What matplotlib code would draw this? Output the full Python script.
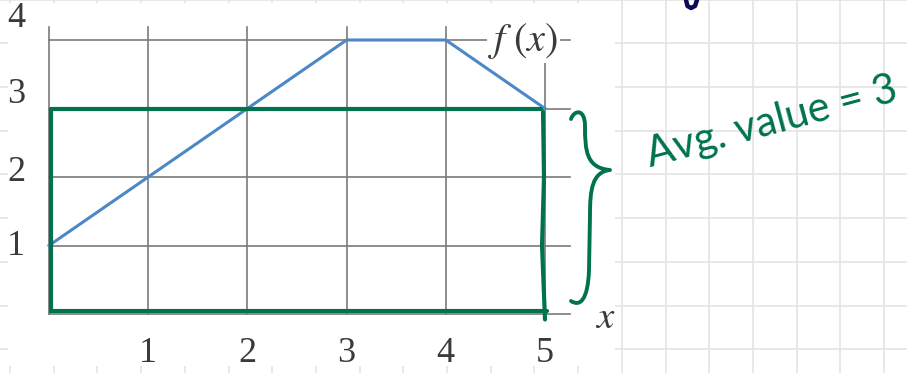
import numpy as np
import matplotlib
matplotlib.use("Agg")
import matplotlib.pyplot as plt
from matplotlib.path import Path
from matplotlib.patches import PathPatch, Rectangle

plt.rcParams["mathtext.fontset"] = "stix"

# ---- data -------------------------------------------------------------
x_knots = [0, 3, 4, 5]          # breakpoints of f
f_knots = [1, 4, 4, 3]          # f at the breakpoints
x_ticks = [1, 2, 3, 4, 5]
y_ticks = [1, 2, 3, 4]
avg_value = 3                   # average value of f on [0, 5]
interval = (0, 5)
note_text = "Avg. value = 3"

# ---- styles -----------------------------------------------------------
W, H = 907, 373
GREEN = "#00724f"
BLUE = "#4d88c6"
GRID = "#7a7a7a"
PAPER = "#e4e4e4"
INK = "#3a3a3a"

fig = plt.figure(figsize=(W / 100, H / 100), dpi=100)

# notebook page behind the pasted figure (pixel coordinates)
bg = fig.add_axes([0, 0, 1, 1], zorder=0)
bg.set_xlim(0, W)
bg.set_ylim(H, 0)
bg.axis("off")
for gx in np.arange(10, W, 43.7):
    bg.plot([gx, gx], [0, H], color=PAPER, lw=1.2)
for gy in np.arange(-0.4, H, 43.7):
    bg.plot([0, W], [gy, gy], color=PAPER, lw=1.2)
bg.add_patch(Rectangle((8, 3), 607, 363, facecolor="white", edgecolor="none", zorder=2))

# small ink mark at the top edge of the page
bg.plot([686, 687.5, 691, 695, 697], [0, 6, 8, 6, 0], color="#0b0b55", lw=3.2,
        solid_capstyle="round", zorder=5)

# curly brace next to the rectangle
verts = [(571, 119), (574, 110), (585, 108), (585, 126),
         (585, 150), (586, 168), (610, 170),
         (592, 172), (590, 190), (590, 215),
         (589, 270),
         (588, 300), (580, 307), (571, 301)]
codes = [Path.MOVETO, Path.CURVE4, Path.CURVE4, Path.CURVE4,
         Path.CURVE4, Path.CURVE4, Path.CURVE4,
         Path.CURVE4, Path.CURVE4, Path.CURVE4,
         Path.LINETO,
         Path.CURVE4, Path.CURVE4, Path.CURVE4]
bg.add_patch(PathPatch(Path(verts, codes), facecolor="none", edgecolor=GREEN,
                       lw=2.8, capstyle="round", joinstyle="round", zorder=5))

bg.text(772, 122, note_text, color=GREEN, fontsize=30, family="Lato",
        rotation=15, rotation_mode="anchor", ha="center", va="center", zorder=5)

# ---- the graph of f ---------------------------------------------------
ax = fig.add_axes([49 / W, (H - 314) / H, 496 / W, 274 / H], zorder=3)
ax.set_xlim(0, 5)
ax.set_ylim(0, 4)
ax.patch.set_visible(False)
ax.axis("off")

x_end = 5.25    # how far the horizontal rules run
y_top = 4.19    # how far the vertical rules run
for yv in [0] + y_ticks:
    ax.plot([0, x_end], [yv, yv], color=GRID, lw=1.2, clip_on=False, zorder=1)
for xv in [0] + x_ticks:
    ax.plot([xv, xv], [0, y_top], color=GRID, lw=1.2, clip_on=False, zorder=1)

ax.plot(x_knots, f_knots, color=BLUE, lw=2.2, clip_on=False, zorder=3)

# tick labels
y_nudge = [-0.02, 0.06, 0.20, 0.31]
for yv, dy in zip(y_ticks, y_nudge):
    ax.text(-0.33, yv + dy, str(yv), fontsize=26, family="Liberation Serif",
            color=INK, ha="center", va="center", clip_on=False)
for xv in x_ticks:
    ax.text(xv, -0.57, str(xv), fontsize=26, family="Liberation Serif",
            color=INK, ha="center", va="center", clip_on=False)

ax.text(4.43, 3.98, r"$f\;(x)$", fontsize=29, color=INK, ha="left", va="center",
        bbox=dict(facecolor="white", edgecolor="none", pad=1.0), zorder=4)
ax.text(5.61, -0.05, r"$x$", fontsize=28, color=INK, ha="center", va="center",
        clip_on=False)

# rectangle of height equal to the average value
a, b = interval
ax.plot([a + 0.02, b - 0.04], [avg_value, avg_value], color=GREEN, lw=3,
        clip_on=False, zorder=5, solid_capstyle="round")
ax.plot([a + 0.02, a + 0.02, b + 0.02], [avg_value, 0.04, 0.04], color=GREEN, lw=3,
        clip_on=False, zorder=5, solid_capstyle="round", solid_joinstyle="miter")
ax.plot([b - 0.02, b - 0.01, b - 0.03, b + 0.0], [avg_value - 0.05, 2.0, 1.0, -0.08],
        color=GREEN, lw=3, clip_on=False, zorder=5, solid_capstyle="round")

fig.savefig("out.png", dpi=100)
